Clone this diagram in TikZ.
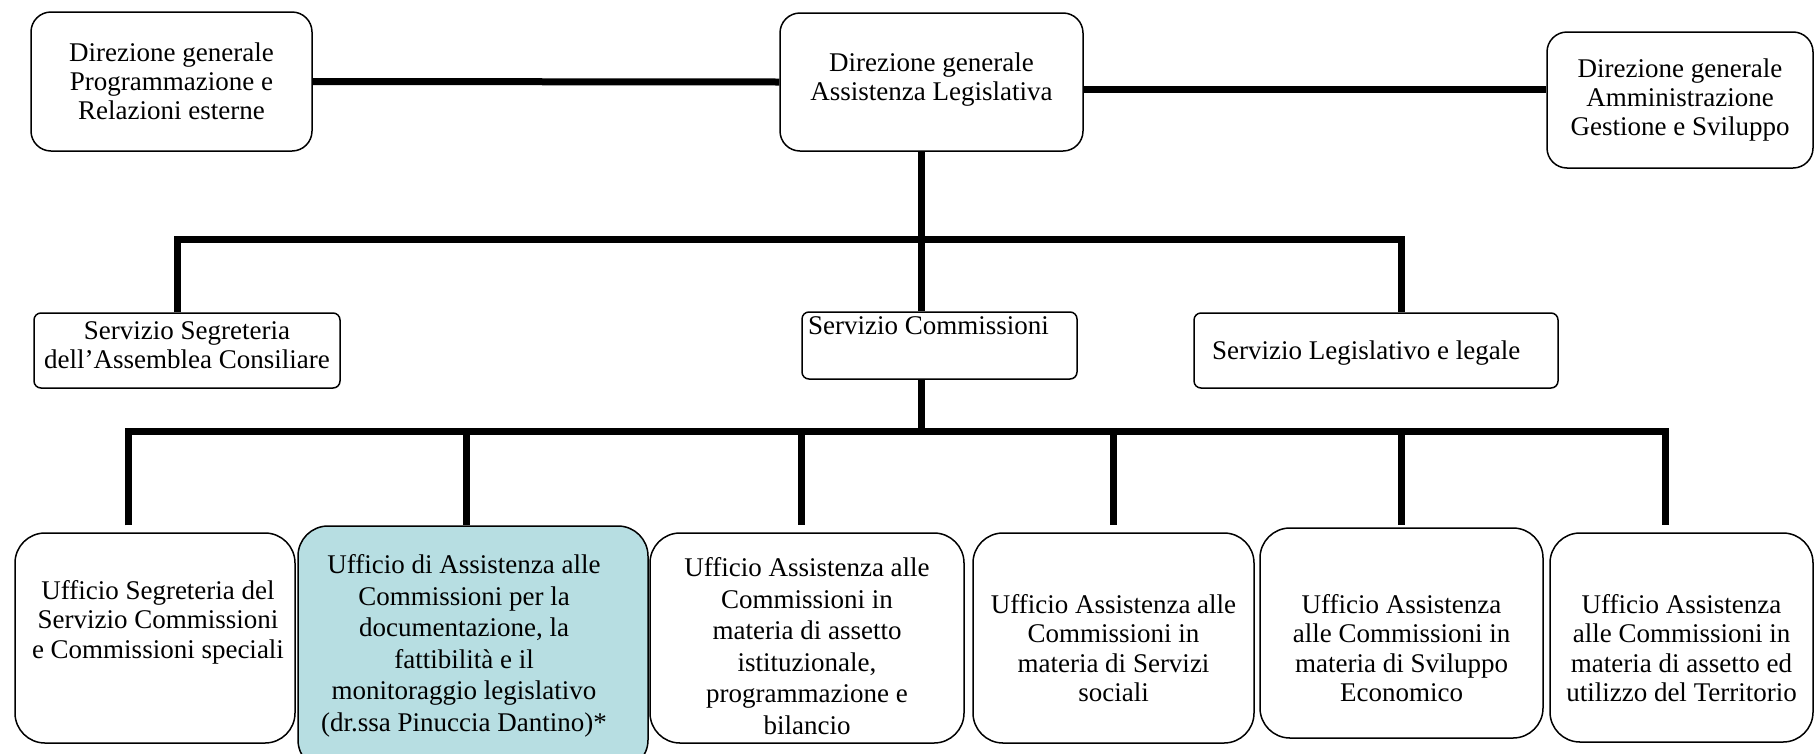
\documentclass[tikz,border=0pt]{standalone}
\usepackage{fontspec}
\setmainfont{Liberation Serif}
\definecolor{paleblue}{RGB}{183,222,226}
\begin{document}
\begin{tikzpicture}[x=1pt,y=-1pt,
  box/.style={draw=black, line width=1.5pt, fill=white, inner sep=0pt, rounded corners=20pt},
  sbox/.style={box, rounded corners=7pt},
  ubox/.style={box, rounded corners=30pt},
  conn/.style={line width=7pt, line join=miter},
  txt/.style={align=center, inner sep=0pt, font=\fontsize{27}{29}\selectfont},
  utxt/.style={align=center, inner sep=0pt, font=\fontsize{27}{31.5}\selectfont},
  vtxt/.style={align=center, inner sep=0pt, font=\fontsize{27}{29.5}\selectfont}]
\useasboundingbox (0,0) rectangle (1814,753);

% top row
\node[box, minimum width=281pt, minimum height=139pt] (b1) at (171.5,81.5) {};
\node[box, minimum width=303pt, minimum height=138pt] (b2) at (931.5,82) {};
\node[box, minimum width=266pt, minimum height=136pt] (b3) at (1680,100) {};
\node[txt] (t1) at (b1.center) {Direzione generale\\Programmazione e\\Relazioni esterne};
\node[txt, yshift=2pt] (t2) at (b2.center) {Direzione generale\\Assistenza Legislativa};
\node[txt] (t3) at (b3.center) {Direzione generale\\Amministrazione\\Gestione e Sviluppo};

% second row
\node[sbox, minimum width=306pt, minimum height=75pt] (sseg) at (187,350.5) {};
\node[sbox, minimum width=275pt, minimum height=67pt] (scom) at (939.5,345.5) {};
\node[sbox, minimum width=364pt, minimum height=75pt] (sleg) at (1376,350.5) {};
\node[txt, yshift=5pt] (ts1) at (sseg.center) {Servizio Segreteria\\dell’Assemblea Consiliare};
\node[txt, anchor=west] (ts2) at (808,326) {Servizio Commissioni};
\node[txt, anchor=west] (ts3) at (1212,353) {Servizio Legislativo e legale};

% bottom row
\node[ubox, minimum width=280pt, minimum height=210pt] (u1) at (155,638) {};
\node[ubox, fill=paleblue, minimum width=350pt, minimum height=244pt] (u2) at (473,648) {};
\node[ubox, minimum width=314pt, minimum height=210pt] (u3) at (807,638) {};
\node[ubox, minimum width=281pt, minimum height=210pt] (u4) at (1113.5,638) {};
\node[ubox, minimum width=283pt, minimum height=210pt] (u5) at (1401.5,633) {};
\node[ubox, minimum width=263pt, minimum height=209pt] (u6) at (1681.5,637.5) {};

\node[vtxt] (tu1) at (158,622) {Ufficio Segreteria del\\Servizio Commissioni\\e Commissioni speciali};
\node[utxt] (tu2) at (464,646) {Ufficio di Assistenza alle\\Commissioni per la\\documentazione, la\\fattibilità e il\\monitoraggio legislativo\\(dr.ssa Pinuccia Dantino)*};
\node[utxt] (tu3) at (807,646) {Ufficio Assistenza alle\\Commissioni in\\materia di assetto\\istituzionale,\\programmazione e\\bilancio};
\node[vtxt] (tu4) at (1113.5,648) {Ufficio Assistenza alle\\Commissioni in\\materia di Servizi\\sociali};
\node[vtxt] (tu5) at (1401.5,648) {Ufficio Assistenza\\alle Commissioni in\\materia di Sviluppo\\Economico};
\node[vtxt] (tu6) at (1681.5,648) {Ufficio Assistenza\\alle Commissioni in\\materia di assetto ed\\utilizzo del Territorio};

% connectors top
\coordinate (l2) at (0,89);
\draw[conn] (b1.east) -- (b2.west);
\draw[conn] (b2.east |- l2) -- (b3.west |- l2);

\coordinate (v1) at (921,0);
\coordinate (h1L) at (177,239);
\coordinate (h1R) at (1401,239);
\draw[conn] (b2.south -| v1) -- (scom.north -| v1);
\draw[conn] (sseg.north -| h1L) -- (h1L) -- (h1R) -- (sleg.north -| h1R);

% connectors bottom
\coordinate (h2L) at (128,431);
\coordinate (h2R) at (1665,431);
\coordinate (d2) at (466,431);
\coordinate (d3) at (801,431);
\coordinate (d4) at (1113,431);
\coordinate (d5) at (1401,431);
\draw[conn] (scom.south -| v1) -- (v1 |- h2L);
\draw[conn] ([yshift=7pt]u1.north -| h2L) -- (h2L) -- (h2R) -- ([yshift=7pt]u6.north -| h2R);
\draw[conn] (d2) -- (u2.north -| d2);
\draw[conn] (d3) -- ([yshift=7pt]u3.north -| d3);
\draw[conn] (d4) -- ([yshift=7pt]u4.north -| d4);
\draw[conn] (d5) -- ([yshift=2pt]u5.north -| d5);
\end{tikzpicture}
\end{document}
